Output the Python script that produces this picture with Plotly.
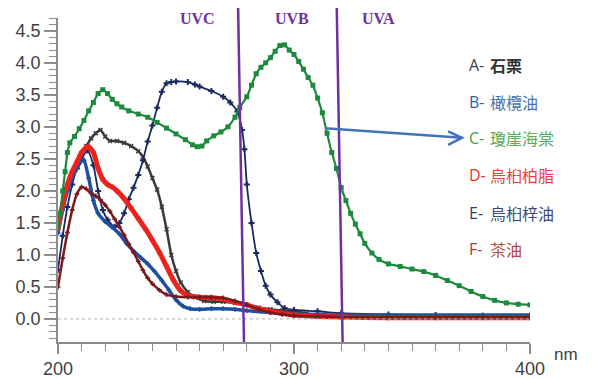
import plotly.graph_objects as go

# ---------------- data ----------------
wl_A = [200, 202, 204, 206, 208, 210, 212, 214, 216, 218, 220, 222, 225, 228, 231, 234, 236, 238, 240, 242, 244, 246, 248, 250, 252, 255, 258, 262, 266, 270, 275, 280, 285, 290, 295, 300, 305, 310, 320, 340, 360, 380, 400]
abs_A = [1.50, 1.80, 2.05, 2.25, 2.42, 2.57, 2.70, 2.82, 2.90, 2.95, 2.85, 2.78, 2.78, 2.75, 2.70, 2.62, 2.53, 2.38, 2.20, 2.02, 1.75, 1.40, 1.00, 0.75, 0.57, 0.42, 0.34, 0.28, 0.27, 0.27, 0.25, 0.22, 0.18, 0.15, 0.13, 0.12, 0.09, 0.05, 0.03, 0.02, 0.02, 0.02, 0.02]

wl_B = [200, 202, 204, 206, 208, 210, 211, 213, 215, 217, 220, 223, 226, 229, 232, 235, 238, 241, 244, 247, 250, 253, 256, 260, 265, 270, 275, 280, 290, 300, 310, 320, 340, 360, 380, 400]
abs_B = [1.34, 1.70, 2.00, 2.20, 2.35, 2.47, 2.48, 2.20, 1.85, 1.65, 1.52, 1.43, 1.33, 1.18, 1.06, 0.96, 0.86, 0.74, 0.60, 0.45, 0.30, 0.20, 0.16, 0.15, 0.16, 0.16, 0.15, 0.13, 0.10, 0.08, 0.07, 0.06, 0.06, 0.06, 0.06, 0.06]

wl_C = [200, 201, 202, 203, 204, 205, 207, 209, 211, 213, 215, 217, 219, 221, 223, 225, 227, 230, 234, 238, 242, 246, 250, 254, 257, 259, 261, 263, 266, 269, 272, 275, 277, 280, 282, 284, 286, 288, 290, 292, 294, 296, 298, 300, 302, 304, 306, 308, 310, 312, 314, 316, 318, 320, 322, 324, 326, 328, 330, 333, 336, 340, 345, 350, 355, 360, 365, 370, 375, 380, 385, 390, 395, 400]
abs_C = [1.45, 1.65, 2.00, 2.30, 2.60, 2.75, 2.85, 2.97, 3.10, 3.25, 3.38, 3.52, 3.58, 3.52, 3.43, 3.36, 3.31, 3.25, 3.20, 3.15, 3.07, 2.98, 2.89, 2.80, 2.72, 2.69, 2.70, 2.78, 2.86, 2.92, 3.00, 3.15, 3.30, 3.47, 3.65, 3.83, 3.93, 4.00, 4.08, 4.18, 4.27, 4.28, 4.20, 4.13, 4.02, 3.90, 3.77, 3.65, 3.45, 3.22, 2.90, 2.60, 2.35, 2.05, 1.85, 1.65, 1.48, 1.33, 1.18, 1.03, 0.93, 0.86, 0.82, 0.78, 0.74, 0.68, 0.60, 0.52, 0.43, 0.35, 0.29, 0.25, 0.23, 0.22]

wl_D = [200, 202, 204, 206, 208, 210, 212, 213, 215, 217, 219, 221, 223, 225, 228, 231, 234, 237, 240, 243, 246, 249, 252, 255, 260, 265, 270, 275, 280, 285, 290, 295, 300, 310, 320, 340, 360, 380, 400]
abs_D = [1.42, 1.80, 2.10, 2.30, 2.45, 2.60, 2.68, 2.69, 2.60, 2.35, 2.18, 2.10, 2.06, 2.00, 1.88, 1.73, 1.57, 1.41, 1.23, 1.04, 0.82, 0.60, 0.44, 0.37, 0.34, 0.33, 0.31, 0.26, 0.22, 0.16, 0.12, 0.09, 0.06, 0.04, 0.03, 0.02, 0.02, 0.02, 0.02]

wl_E = [200, 202, 204, 206, 208, 210, 212.5, 215, 217, 219, 221, 224, 226, 228, 230, 232, 234, 236, 238, 240, 242, 244, 246, 248, 250, 255, 258, 260, 265, 270, 273, 276, 278, 279, 280, 282, 284, 286, 288, 290, 293, 296, 300, 310, 320, 340, 360, 380, 400]
abs_E = [0.77, 1.30, 1.75, 2.10, 2.35, 2.50, 2.63, 2.40, 2.00, 1.70, 1.55, 1.44, 1.50, 1.65, 1.87, 2.05, 2.25, 2.48, 2.77, 3.02, 3.30, 3.55, 3.68, 3.70, 3.71, 3.70, 3.66, 3.63, 3.56, 3.47, 3.38, 3.24, 2.95, 2.65, 2.10, 1.50, 1.03, 0.75, 0.52, 0.38, 0.26, 0.17, 0.14, 0.12, 0.09, 0.07, 0.06, 0.05, 0.05]

wl_F = [200, 202, 204, 206, 208, 210, 212, 214, 216, 218, 220, 222, 224, 226, 228, 230, 232, 234, 236, 238, 240, 243, 246, 250, 255, 260, 265, 270, 275, 280, 285, 290, 295, 300, 310, 320, 340, 360, 380, 400]
abs_F = [0.50, 0.95, 1.35, 1.70, 1.95, 2.06, 2.03, 1.96, 1.92, 1.86, 1.78, 1.68, 1.56, 1.44, 1.31, 1.17, 1.04, 0.90, 0.76, 0.64, 0.55, 0.45, 0.38, 0.35, 0.34, 0.34, 0.34, 0.33, 0.28, 0.22, 0.15, 0.10, 0.07, 0.05, 0.04, 0.03, 0.03, 0.03, 0.03, 0.03]

legend_letters = ["A-", "B-", "C-", "D-", "E-", "F-"]
legend_names = ["<b>石栗</b>", "橄欖油", "瓊崖海棠", "烏桕柏脂", "烏桕梓油", "茶油"]
band_labels = ["UVC", "UVB", "UVA"]
band_label_x = [259, 299, 336]
band_edges_top = [276.3, 318.1]
band_edges_bottom = [278.8, 320.6]
x_ticks = [200, 300, 400]

# ---------------- styling ----------------
# The page body has an 8px margin, so the figure is made 8px smaller and
# shifted; window-pixel positions below are relative to the browser window.
OFF = 8
W, H = 594 - OFF, 379 - OFF
PL, PR, PT, PB = 58, 530, 18, 342           # plot area in window pixels
L, R, T, B = PL - OFF, W - (PR - OFF), PT - OFF, H - (PB - OFF)
plot_h = PB - PT
plot_w = PR - PL

def py(p):  # window pixel y -> paper y
    return (PB - p) / plot_h

def px(p):  # window pixel x -> paper x
    return (p - PL) / plot_w

line_cols = ["#3a3a3a", "#1f4fa0", "#1c8a3c", "#ec231d", "#1b2a5e", "#7a1a1e"]
letter_cols = ["#404040", "#2e5fac", "#46a046", "#e8332e", "#2c3d6e", "#a83a3a"]
name_cols = ["#333333", "#4a72b8", "#5aaa5a", "#f03c3c", "#3a4a7a", "#b04848"]
fig = go.Figure()

series = [
    (wl_A, abs_A, dict(symbol="x-thin-open", size=4), 2.5),
    (wl_E, abs_E, dict(symbol="cross", size=5), 1.8),
    (wl_B, abs_B, dict(symbol="cross", size=4), 3.5),
    (wl_D, abs_D, dict(symbol="circle", size=5), 5),
    (wl_F, abs_F, dict(symbol="cross", size=4), 2.5),
    (wl_C, abs_C, dict(symbol="square", size=5), 2.2),
]
order_cols = [line_cols[0], line_cols[4], line_cols[1], line_cols[3], line_cols[5], line_cols[2]]
for (xs, ys, mk, lw), c in zip(series, order_cols):
    mk = dict(mk)
    mk["color"] = c
    if mk["symbol"] == "x-thin-open":
        mk["line"] = dict(color=c, width=1.5)
    fig.add_trace(go.Scatter(x=xs, y=ys, mode="lines+markers",
                             line=dict(color=c, width=lw, shape="spline", smoothing=0.6),
                             marker=mk, showlegend=False, hoverinfo="skip"))

# zero dotted line
fig.add_shape(type="line", xref="x", yref="y", x0=200, x1=400, y0=0, y1=0,
              line=dict(color="#b0b0b0", width=1, dash="dot"))

# UV band boundaries
for xt, xb in zip(band_edges_top, band_edges_bottom):
    fig.add_shape(type="line", xref="x", yref="paper", x0=xt, x1=xb, y0=py(6), y1=0,
                  line=dict(color="#7030a0", width=2.5))
for lab, xl in zip(band_labels, band_label_x):
    fig.add_annotation(x=xl, y=py(18), xref="x", yref="paper", text="<b>" + lab + "</b>",
                       xanchor="center", yanchor="middle",
                       showarrow=False, font=dict(family="Liberation Serif", size=16, color="#7030a0"))

# arrow C -> legend
ac = "#4472b8"
fig.add_shape(type="line", xref="x", yref="y", x0=313.1, y0=2.98, x1=371.2, y1=2.83,
              line=dict(color=ac, width=2.5))
fig.add_shape(type="path", xref="x", yref="y",
              path="M 365.3 2.93 L 371.2 2.83 L 365.3 2.72",
              line=dict(color=ac, width=2.5))

# legend text
leg_y = [65, 102, 138, 175, 213, 249]
for letter, name, lc, nc, yy in zip(legend_letters, legend_names, letter_cols, name_cols, leg_y):
    fig.add_annotation(x=px(467), y=py(yy), xref="paper", yref="paper",
                       xanchor="left", yanchor="middle",
                       text=letter, showarrow=False,
                       font=dict(family="Open Sans", size=16, color=lc))
    fig.add_annotation(x=px(488), y=py(yy), xref="paper", yref="paper",
                       xanchor="left", yanchor="middle",
                       text=name, showarrow=False,
                       font=dict(family="Noto Sans CJK TC", size=16, color=nc))

fig.add_annotation(x=px(566), y=py(354), xref="paper", yref="paper", text="nm",
                   xanchor="center", yanchor="middle",
                   showarrow=False, font=dict(family="Liberation Sans", size=17, color="#3f3f3f"))

axis_col = "#8c8c8c"
fig.update_xaxes(range=[200, 400], tickvals=x_ticks, ticktext=[str(v) for v in x_ticks],
                 automargin=False,
                 showline=True, linecolor=axis_col, linewidth=1.5, ticks="outside", ticklen=10,
                 tickcolor=axis_col, tickwidth=1.5, showgrid=False, zeroline=False,
                 tickfont=dict(family="Liberation Sans", size=18, color="#3f3f3f"),
                 minor=dict(dtick=10, ticks="outside", ticklen=7, tickcolor=axis_col, tickwidth=1.2))
fig.update_yaxes(range=[-0.36, 4.70], dtick=0.5, tick0=0, tickformat=".1f",
                 automargin=False,
                 showline=True, linecolor=axis_col, linewidth=1.5, ticks="outside", ticklen=12,
                 tickcolor=axis_col, tickwidth=1.5, showgrid=False, zeroline=False,
                 tickfont=dict(family="Liberation Sans", size=18, color="#3f3f3f"),
                 minor=dict(dtick=0.1, tick0=0, ticks="outside", ticklen=7, tickcolor=axis_col, tickwidth=1.2))

fig.update_layout(width=W, height=H, margin=dict(l=L, r=R, t=T, b=B),
                  paper_bgcolor="white", plot_bgcolor="white")

fig.write_html("out.html")
